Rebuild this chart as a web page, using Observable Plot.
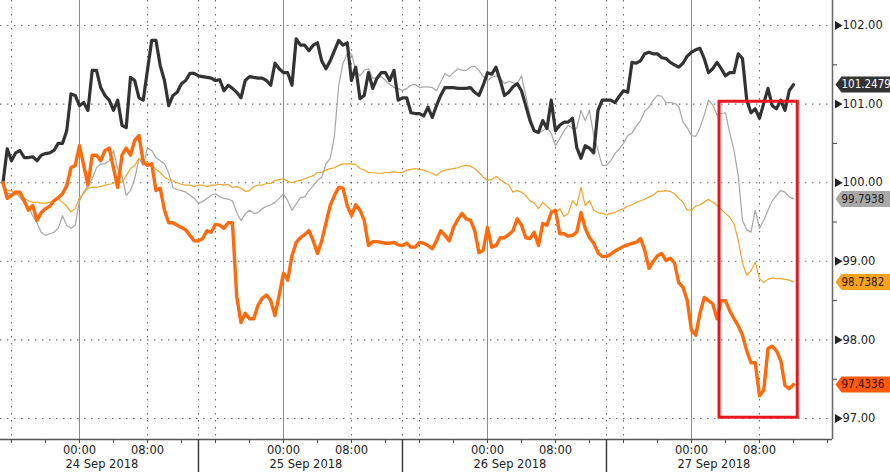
<!DOCTYPE html>
<html>
<head>
<meta charset="utf-8">
<script src="https://cdn.jsdelivr.net/npm/d3@7"></script>
<script src="https://cdn.jsdelivr.net/npm/@observablehq/plot@0.6"></script>
<style>
  html, body { margin: 0; padding: 0; background: #fff; }
</style>
</head>
<body>
<div id="chart"></div>
<script>
// x values are hours since 24 Sep 2018 00:00; hourly samples start 23 Sep 15:00,
// the "Half" arrays hold the readings half an hour after each hourly sample.
const startHour = -9;

const darkOnHour = [100.00,100.28,100.41,100.32,100.28,100.37,100.41,100.50,101.13,100.98,
  100.92,101.43,101.11,100.92,100.73,101.34,101.08,101.43,101.81,101.30,
  101.11,101.26,101.39,101.36,101.34,101.30,101.17,101.20,101.08,101.35,
  101.33,101.30,101.52,101.40,101.24,101.75,101.68,101.78,101.45,101.68,
  101.75,101.30,101.07,101.40,101.33,101.40,101.43,101.08,100.89,100.88,
  100.96,100.98,101.21,101.21,101.20,101.21,101.11,101.40,101.47,101.11,
  101.22,101.17,100.79,100.64,100.69,100.66,100.77,100.82,100.31,100.44,
  100.92,101.05,101.02,101.17,101.53,101.55,101.66,101.64,101.58,101.50,
  101.52,101.66,101.71,101.40,101.53,101.36,101.40,101.58,100.89,100.82,
  101.20,100.94,100.92,101.2479];
const darkOnHalf = [100.43,100.38,100.32,100.33,100.35,100.38,100.50,100.66,101.11,101.02,
  101.43,101.21,101.05,101.05,100.70,101.30,101.05,101.81,101.49,100.98,
  101.15,101.30,101.39,101.35,101.33,101.31,101.24,101.15,101.30,101.34,
  101.33,101.24,101.45,101.40,101.83,101.75,101.75,101.55,101.55,101.81,
  101.78,101.47,101.11,101.20,101.40,101.30,101.05,101.08,100.88,100.85,
  100.83,101.11,101.21,101.20,101.20,101.15,101.24,101.38,101.30,101.15,
  101.26,100.98,100.66,100.79,101.05,100.73,100.77,100.45,100.47,100.38,
  101.05,101.05,101.10,101.15,101.52,101.64,101.64,101.59,101.53,101.47,
  101.61,101.69,101.58,101.45,101.45,101.40,101.64,101.05,100.94,101.01,
  100.98,101.05,101.17];

const orangeOnHour = [100.00,99.84,99.88,99.65,99.52,99.67,99.77,99.86,100.19,100.47,
  99.97,100.35,100.41,100.19,100.35,100.35,100.60,100.22,99.90,99.65,
  99.49,99.43,99.33,99.26,99.39,99.47,99.42,99.49,98.22,98.27,
  98.44,98.57,98.31,98.85,99.07,99.30,99.39,99.10,99.49,99.84,
  99.93,99.58,99.65,99.20,99.25,99.23,99.24,99.20,99.18,99.24,
  99.20,99.26,99.33,99.43,99.61,99.52,99.11,99.43,99.20,99.30,
  99.39,99.46,99.29,99.20,99.46,99.65,99.35,99.33,99.62,99.30,
  99.11,99.06,99.13,99.19,99.23,99.29,98.91,99.07,99.01,98.98,
  98.67,98.12,98.34,98.50,98.27,98.50,98.27,98.06,97.71,97.29,
  97.89,97.86,97.42,97.4336];
const orangeOnHalf = [99.80,99.88,99.77,99.71,99.62,99.70,99.81,99.96,100.22,100.22,
  100.35,100.28,100.44,99.94,100.44,100.54,100.26,100.24,99.93,99.49,
  99.46,99.40,99.26,99.29,99.37,99.46,99.49,98.55,98.34,98.27,
  98.53,98.50,98.57,98.76,99.24,99.34,99.26,99.26,99.71,99.94,
  99.71,99.72,99.52,99.25,99.24,99.23,99.21,99.23,99.18,99.23,
  99.16,99.39,99.26,99.53,99.54,99.39,99.14,99.18,99.30,99.34,
  99.54,99.30,99.37,99.48,99.62,99.35,99.32,99.37,99.42,99.23,
  99.06,99.09,99.16,99.21,99.24,99.14,99.00,99.10,99.04,98.73,
  98.50,98.06,98.54,98.46,98.50,98.37,98.18,97.86,97.71,97.36,
  97.92,97.74,97.38];

const grayOnHour = [100.00,99.86,99.81,99.68,99.49,99.33,99.37,99.58,99.42,99.77,
  99.96,100.19,100.24,100.41,100.09,99.90,100.31,100.44,100.32,100.24,
  99.94,99.90,99.84,99.74,99.80,99.86,99.80,99.77,99.52,99.65,
  99.62,99.70,99.75,99.86,99.65,99.81,99.90,100.03,100.24,100.60,
  101.52,101.64,101.36,101.45,101.33,101.30,101.21,101.17,101.24,101.21,
  101.22,101.17,101.39,101.40,101.43,101.47,101.43,101.30,101.36,101.26,
  101.27,101.36,100.86,100.63,100.70,100.47,100.66,100.69,100.92,100.92,
  100.41,100.22,100.37,100.50,100.63,100.79,100.96,101.11,101.02,101.01,
  100.77,100.60,100.70,101.05,100.86,100.89,100.41,99.52,99.37,99.42,
  99.65,99.84,99.88,99.7938];
const grayOnHalf = [99.86,99.88,99.75,99.58,99.37,99.35,99.42,99.46,99.46,99.88,
  100.05,100.24,100.28,100.18,99.84,100.05,100.22,100.41,100.28,100.12,
  99.91,99.88,99.80,99.76,99.84,99.82,99.79,99.62,99.60,99.61,
  99.67,99.72,99.80,99.77,99.73,99.82,99.96,100.07,100.31,101.24,
  101.64,101.43,101.43,101.33,101.35,101.25,101.20,101.20,101.25,101.22,
  101.21,101.28,101.35,101.45,101.43,101.48,101.35,101.34,101.33,101.29,
  101.26,101.11,100.66,100.66,100.63,100.56,100.73,100.69,100.79,100.60,
  100.22,100.28,100.43,100.60,100.72,100.91,101.05,101.10,101.02,100.97,
  100.70,100.59,100.86,100.99,100.88,100.63,100.09,99.40,99.65,99.52,
  99.77,99.90,99.82];

const goldOnHour = [100.00,99.90,99.84,99.77,99.75,99.74,99.77,99.75,99.63,99.81,
  99.93,99.94,99.97,99.99,100.00,100.18,100.31,100.26,100.17,100.07,
  100.02,99.98,99.97,99.97,99.95,99.97,99.97,99.94,99.93,99.90,
  99.97,99.99,100.03,100.05,100.00,100.03,100.07,100.13,100.16,100.19,
  100.24,100.24,100.18,100.13,100.12,100.13,100.14,100.13,100.17,100.17,
  100.14,100.09,100.16,100.18,100.21,100.21,100.13,100.03,100.08,100.00,
  99.88,99.88,99.77,99.67,99.70,99.61,99.57,99.77,99.94,99.77,
  99.62,99.59,99.62,99.67,99.72,99.77,99.82,99.89,99.90,99.86,
  99.75,99.65,99.72,99.79,99.71,99.61,99.48,98.98,98.88,98.78,
  98.77,98.78,98.77,98.7382];
const goldOnHalf = [99.90,99.85,99.80,99.75,99.74,99.75,99.80,99.70,99.67,99.86,
  99.94,99.95,99.98,100.03,100.09,100.22,100.28,100.22,100.13,100.04,
  100.00,99.97,99.95,99.97,99.97,99.98,99.98,99.95,99.89,99.95,
  99.97,99.99,100.04,100.02,100.02,100.05,100.09,100.13,100.18,100.22,
  100.24,100.23,100.16,100.13,100.12,100.13,100.13,100.16,100.18,100.16,
  100.12,100.14,100.17,100.19,100.22,100.18,100.07,100.04,100.04,99.97,
  99.90,99.84,99.74,99.75,99.65,99.67,99.61,99.71,99.71,99.65,
  99.61,99.61,99.65,99.70,99.75,99.79,99.84,99.89,99.89,99.80,
  99.65,99.70,99.75,99.75,99.66,99.56,99.27,98.82,98.99,98.73,
  98.79,98.78,98.76];

const seriesNames = ["gray", "gold", "dark", "orange"];
const seriesColors = {gray: "#a6a6a6", gold: "#eea52a", dark: "#333333", orange: "#ff6a0d"};
const seriesWidths = {gray: 1.2, gold: 1.2, dark: 3.2, orange: 3.4};
const seriesHourly = {gray: grayOnHour, gold: goldOnHour, dark: darkOnHour, orange: orangeOnHour};
const seriesHalf = {gray: grayOnHalf, gold: goldOnHalf, dark: darkOnHalf, orange: orangeOnHalf};

// value tags at the right
const tagNames = ["dark", "gray", "gold", "orange"];
const tagFills = ["#333333", "#a8a8a8", "#f5a21c", "#ff5a0a"];
const tagTextColors = ["#ffffff", "#222222", "#2a1a00", "#3a0a00"];

// axis definitions
const xDomain = [-9.29, 88.59];
const yDomain = [96.733, 102.318];
const yMajor = [97, 98, 99, 100, 101, 102];
const yMinor = [97.5, 98.5, 99.5, 100.5, 101.5];
const minorTickHours = d3.range(-8, 89, 4);
const timeLabelHours = [0, 8, 24, 32, 48, 56, 72, 80];
const timeLabels = ["00:00", "08:00", "00:00", "08:00", "00:00", "08:00", "00:00", "08:00"];
const dayLabelHours = [0, 24, 48, 72];
const dayLabels = ["24 Sep 2018", "25 Sep 2018", "26 Sep 2018", "27 Sep 2018"];
const midnightHours = [0, 24, 48, 72];
const sessionHours = [14, 38, 62];
const dottedHours = [-8, 8, 14, 16, 32, 38, 40, 56, 62, 64, 80];

// highlighted box
const boxStart = 75.3, boxEnd = 84.5, boxTop = 101.03, boxBottom = 97.01;

// build tables
const lineData = [];
for (const name of seriesNames) {
  const rows = [];
  seriesHourly[name].forEach((v, i) => rows.push({name, h: startHour + i, v}));
  seriesHalf[name].forEach((v, i) => rows.push({name, h: startHour + i + 0.5, v}));
  rows.sort((a, b) => a.h - b.h);
  lineData.push(...rows);
}
const tags = tagNames.map((name, i) => {
  const arr = seriesHourly[name];
  return {name, value: arr[arr.length - 1], bg: tagFills[i], fg: tagTextColors[i]};
});
const timeLabelData = timeLabelHours.map((h, i) => ({h, label: timeLabels[i]}));
const dayLabelData = dayLabelHours.map((h, i) => ({h, label: dayLabels[i]}));

const tagSymbol = {
  draw(context) {
    context.moveTo(0, 0);
    context.lineTo(6, -8);
    context.lineTo(60, -8);
    context.lineTo(60, 8);
    context.lineTo(6, 8);
    context.closePath();
  }
};

const dots = "1.4,5.6";

const chart = Plot.plot({
  width: 890,
  height: 472,
  marginLeft: 0,
  marginRight: 58,
  marginTop: 0,
  marginBottom: 33,
  style: {fontFamily: "DejaVu Sans, Verdana, sans-serif", fontSize: "11px", color: "#222", background: "#fff"},
  x: {domain: xDomain, axis: null},
  y: {domain: yDomain, axis: null},
  color: {type: "identity"},
  marks: [
    Plot.ruleY(yMajor, {stroke: "#666", strokeDasharray: dots, strokeWidth: 1.1}),
    Plot.ruleX(dottedHours, {stroke: "#666", strokeDasharray: dots, strokeWidth: 1.1}),
    Plot.ruleX(midnightHours, {stroke: "#8c8c8c", strokeWidth: 1}),
    ...seriesNames.map(name => Plot.line(lineData.filter(d => d.name === name), {
      x: "h", y: "v", stroke: seriesColors[name], strokeWidth: seriesWidths[name],
      strokeLinejoin: "round", strokeLinecap: "round"
    })),
    Plot.rect([{x1: boxStart, x2: boxEnd, y1: boxBottom, y2: boxTop}], {
      x1: "x1", x2: "x2", y1: "y1", y2: "y2", fill: "none", stroke: "#e8171d", strokeWidth: 3
    }),
    // frame: bottom and right axis lines
    Plot.ruleY([yDomain[0]], {stroke: "#555", strokeWidth: 1.5}),
    Plot.ruleX([xDomain[1]], {stroke: "#666", strokeWidth: 1.5}),
    // bottom ticks
    Plot.axisX({ticks: minorTickHours, tickSize: 4, tickFormat: () => "", stroke: "#444"}),
    Plot.axisX({ticks: sessionHours, tickSize: 33, tickFormat: () => "", stroke: "#333", strokeWidth: 1.4}),
    Plot.text(timeLabelData, {x: "h", frameAnchor: "bottom", dy: 14, text: "label", fontSize: 11.5, fill: "#222"}),
    Plot.text(dayLabelData, {x: "h", frameAnchor: "bottom", dy: 28, dx: -14, textAnchor: "start", text: "label", fontSize: 11.5, fill: "#222"}),
    // right axis
    Plot.axisY({anchor: "right", ticks: yMinor, tickSize: 4, tickFormat: () => "", stroke: "#444"}),
    Plot.axisY({anchor: "right", ticks: yMajor, tickSize: 0, tickPadding: 10, tickFormat: d => d.toFixed(2), fontSize: 11.5, fill: "#222"}),
    Plot.dot(yMajor, {x: () => xDomain[1], y: d => d, symbol: "triangle", rotate: 90, r: 3.3, fill: "#222", dx: 5}),
    // value tags
    Plot.dot(tags, {x: () => xDomain[1], y: "value", symbol: tagSymbol, fill: "bg", dx: 3}),
    Plot.text(tags, {x: () => xDomain[1], y: "value", text: d => d.value.toFixed(4), fill: "fg", dx: 9, textAnchor: "start",
      fontSize: 11.5, fontFamily: "DejaVu Sans Condensed, DejaVu Sans, sans-serif", fontStretch: "condensed"})
  ]
});

document.getElementById("chart").appendChild(chart);
</script>
</body>
</html>
